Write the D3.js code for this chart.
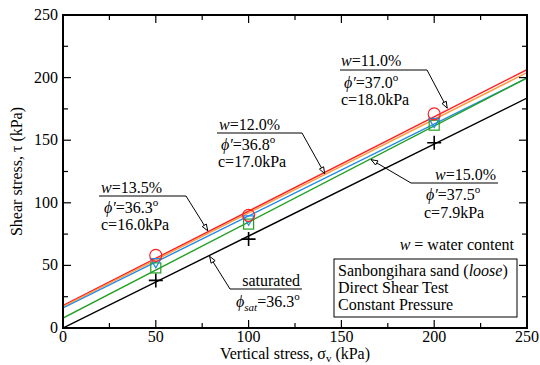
<!DOCTYPE html>
<html><head><meta charset="utf-8">
<script src="https://cdn.jsdelivr.net/npm/d3@7"></script>
<style>body{margin:0;background:#fff}</style>
</head><body><svg id="c" width="540" height="365" font-family="Liberation Serif"></svg>
<script>
// Data
const xTicks = [0, 50, 100, 150, 200, 250];
const yTicks = [0, 50, 100, 150, 200, 250];
const seriesNames = ["w=11.0%", "w=12.0%", "w=13.5%", "w=15.0%", "saturated"];
const cohesion = [18.0, 17.0, 16.0, 7.9, 0];
const phiDeg = [37.0, 36.8, 36.3, 37.5, 36.3];
const colors = ["#ff2020", "#ff9a40", "#1f8ae6", "#22a022", "#000000"];
const testStress = [50, 100, 200];
const tau11 = [58, 90, 171];
const tau135 = [53, 87, 165];
const tau15 = [48, 83, 162];
const tauSat = [38, 71, 148];

const FONT = "Liberation Serif";
const FS = 16;
const svg = d3.select("#c");
const m = {l: 63, r: 13, t: 15, b: 37};
const W = 540, H = 365;
const x = d3.scaleLinear().domain([0, 250]).range([m.l, W - m.r]);
const y = d3.scaleLinear().domain([0, 250]).range([H - m.b, m.t]);

svg.append("clipPath").attr("id","clip").append("rect")
  .attr("x", x(0)).attr("y", y(250)).attr("width", x(250)-x(0)).attr("height", y(0)-y(250));

// Lines
const g = svg.append("g").attr("clip-path","url(#clip)");
seriesNames.forEach((n,i)=>{
  const t = Math.tan(phiDeg[i]*Math.PI/180);
  const pts = [0,250].map(s=>[s, cohesion[i] + s*t]);
  g.append("path").attr("d", d3.line().x(d=>x(d[0])).y(d=>y(d[1]))(pts))
   .attr("stroke", colors[i]).attr("stroke-width", 1.4).attr("fill","none");
});

// Markers
const mk = svg.append("g");
testStress.forEach((s,j)=>{
  mk.append("path").attr("d", `M${x(s)-7},${y(tauSat[j])}h14M${x(s)},${y(tauSat[j])-7}v14`)
    .attr("stroke","#000").attr("stroke-width",1.6);
  mk.append("rect").attr("x",x(s)-5).attr("y",y(tau15[j])-5).attr("width",10).attr("height",10)
    .attr("fill","none").attr("stroke",colors[3]).attr("stroke-width",1.2);
  mk.append("path").attr("d", d3.symbol(d3.symbolTriangle, 50)())
    .attr("transform",`translate(${x(s)},${y(tau135[j])}) rotate(180)`)
    .attr("fill","none").attr("stroke",colors[2]).attr("stroke-width",1.2);
  mk.append("circle").attr("cx",x(s)).attr("cy",y(tau11[j])).attr("r",6)
    .attr("fill","none").attr("stroke",colors[0]).attr("stroke-width",1.2);
});

// Axes frame
const ax = svg.append("g").attr("font-family", FONT);
ax.append("rect").attr("x",x(0)).attr("y",y(250)).attr("width",x(250)-x(0)).attr("height",y(0)-y(250))
  .attr("fill","none").attr("stroke","#000").attr("stroke-width",2);
const minor = d3.range(0, 251, 25);
minor.forEach(v=>{
  const L = v%50===0 ? 8 : 5;
  ax.append("line").attr("x1",x(v)).attr("x2",x(v)).attr("y1",y(0)).attr("y2",y(0)-L).attr("stroke","#000").attr("stroke-width",1.2);
  ax.append("line").attr("x1",x(v)).attr("x2",x(v)).attr("y1",y(250)).attr("y2",y(250)+L).attr("stroke","#000").attr("stroke-width",1.2);
  ax.append("line").attr("y1",y(v)).attr("y2",y(v)).attr("x1",x(0)).attr("x2",x(0)+L).attr("stroke","#000").attr("stroke-width",1.2);
  ax.append("line").attr("y1",y(v)).attr("y2",y(v)).attr("x1",x(250)).attr("x2",x(250)-L).attr("stroke","#000").attr("stroke-width",1.2);
});
xTicks.forEach(v=>{
  ax.append("text").attr("x",x(v)).attr("y",y(0)+14).attr("text-anchor","middle").attr("font-size",FS).text(v);
});
yTicks.forEach(v=>{
  ax.append("text").attr("x",x(0)-5).attr("y",y(v)+5).attr("text-anchor","end").attr("font-size",FS).text(v);
});
const xt = ax.append("text").attr("x",(x(0)+x(250))/2).attr("y",359).attr("text-anchor","middle").attr("font-size",FS);
xt.append("tspan").text("Vertical stress, σ");
xt.append("tspan").attr("font-size",11).attr("dy",3).text("v");
xt.append("tspan").attr("dy",-3).text(" (kPa)");
ax.append("text").attr("transform",`translate(22,${(y(0)+y(250))/2}) rotate(-90)`).attr("text-anchor","middle").attr("font-size",FS)
  .text("Shear stress, τ (kPa)");

// Annotations
const an = svg.append("g").attr("font-family", FONT);
function arrow(x1,y1,x2,y2){
  an.append("line").attr("x1",x1).attr("y1",y1).attr("x2",x2).attr("y2",y2).attr("stroke","#000").attr("stroke-width",1);
  const a = Math.atan2(y2-y1,x2-x1), L=7, w=0.35;
  const p = [[x2,y2],[x2-L*Math.cos(a-w),y2-L*Math.sin(a-w)],[x2-L*Math.cos(a+w),y2-L*Math.sin(a+w)]];
  an.append("path").attr("d","M"+p.join("L")+"Z").attr("fill","#fff").attr("stroke","#000").attr("stroke-width",1);
}
function lineAt(i, s){ return [x(s), y(cohesion[i] + s*Math.tan(phiDeg[i]*Math.PI/180))]; }
function wLabel(g, xx, yy, val, anchor){
  const t = g.append("text").attr("x",xx).attr("y",yy).attr("font-size",FS).attr("text-anchor",anchor||"start");
  t.append("tspan").attr("font-style","italic").text("w");
  t.append("tspan").text("=" + val);
}
function phiLabel(g, xx, yy, val, anchor){
  const t = g.append("text").attr("x",xx).attr("y",yy).attr("font-size",FS).attr("text-anchor",anchor||"start");
  t.append("tspan").attr("font-style","italic").text("ϕ′");
  t.append("tspan").text("=" + val);
  t.append("tspan").attr("font-size",11).attr("dy",-7).text("o");
}
function plain(xx,yy,s,anchor){ return an.append("text").attr("x",xx).attr("y",yy).attr("font-size",FS).attr("text-anchor",anchor||"start").text(s); }

// w=11.0%
wLabel(an, 341, 66, "11.0%");
an.append("line").attr("x1",340).attr("x2",427).attr("y1",70).attr("y2",70).attr("stroke","#000");
phiLabel(an, 344, 88, "37.0");
plain(341, 105, "c=18.0kPa");
{const p=lineAt(0,207); arrow(427,70,p[0],p[1]-2);}

// w=12.0%
wLabel(an, 219, 130, "12.0%");
an.append("line").attr("x1",217).attr("x2",302).attr("y1",133).attr("y2",133).attr("stroke","#000");
phiLabel(an, 221, 150, "36.8");
plain(218, 167, "c=17.0kPa");
{const p=lineAt(1,141); arrow(302,133,p[0],p[1]-1);}

// w=13.5%
wLabel(an, 101, 193, "13.5%");
an.append("line").attr("x1",99).attr("x2",186).attr("y1",196).attr("y2",196).attr("stroke","#000");
phiLabel(an, 104, 213, "36.3");
plain(101, 230, "c=16.0kPa");
{const p=lineAt(0,78); arrow(186,196,p[0],p[1]-1);}

// w=15.0%
wLabel(an, 496, 180, "15.0%", "end");
an.append("line").attr("x1",411).attr("x2",498).attr("y1",183).attr("y2",183).attr("stroke","#000");
phiLabel(an, 426, 200, "37.5");
plain(424, 218, "c=7.9kPa");
{const p=lineAt(3,166); arrow(411,183,p[0],p[1]+1);}

// saturated
plain(300, 286, "saturated", "end");
an.append("line").attr("x1",230).attr("x2",302).attr("y1",289).attr("y2",289).attr("stroke","#000");
{const t = an.append("text").attr("x",236).attr("y",307).attr("font-size",FS);
 t.append("tspan").attr("font-style","italic").text("ϕ");
 t.append("tspan").attr("font-style","italic").attr("font-size",11).attr("dy",4).text("sat");
 t.append("tspan").attr("dy",-4).text("=36.3");
 t.append("tspan").attr("font-size",11).attr("dy",-7).text("o");}
{const p=lineAt(4,79); arrow(230,289,p[0],p[1]+1);}

{const t = an.append("text").attr("x",514).attr("y",250).attr("font-size",FS).attr("text-anchor","end");
 t.append("tspan").attr("font-style","italic").text("w");
 t.append("tspan").text(" = water content");}

an.append("rect").attr("x",334).attr("y",259).attr("width",183).attr("height",58).attr("fill","#fff").attr("stroke","#000").attr("stroke-width",1);
{const t = an.append("text").attr("x",338).attr("y",276).attr("font-size",FS);
 t.append("tspan").text("Sanbongihara sand (");
 t.append("tspan").attr("font-style","italic").text("loose");
 t.append("tspan").text(")");}
plain(338, 293, "Direct Shear Test");
plain(338, 310, "Constant Pressure");
</script></body></html>
